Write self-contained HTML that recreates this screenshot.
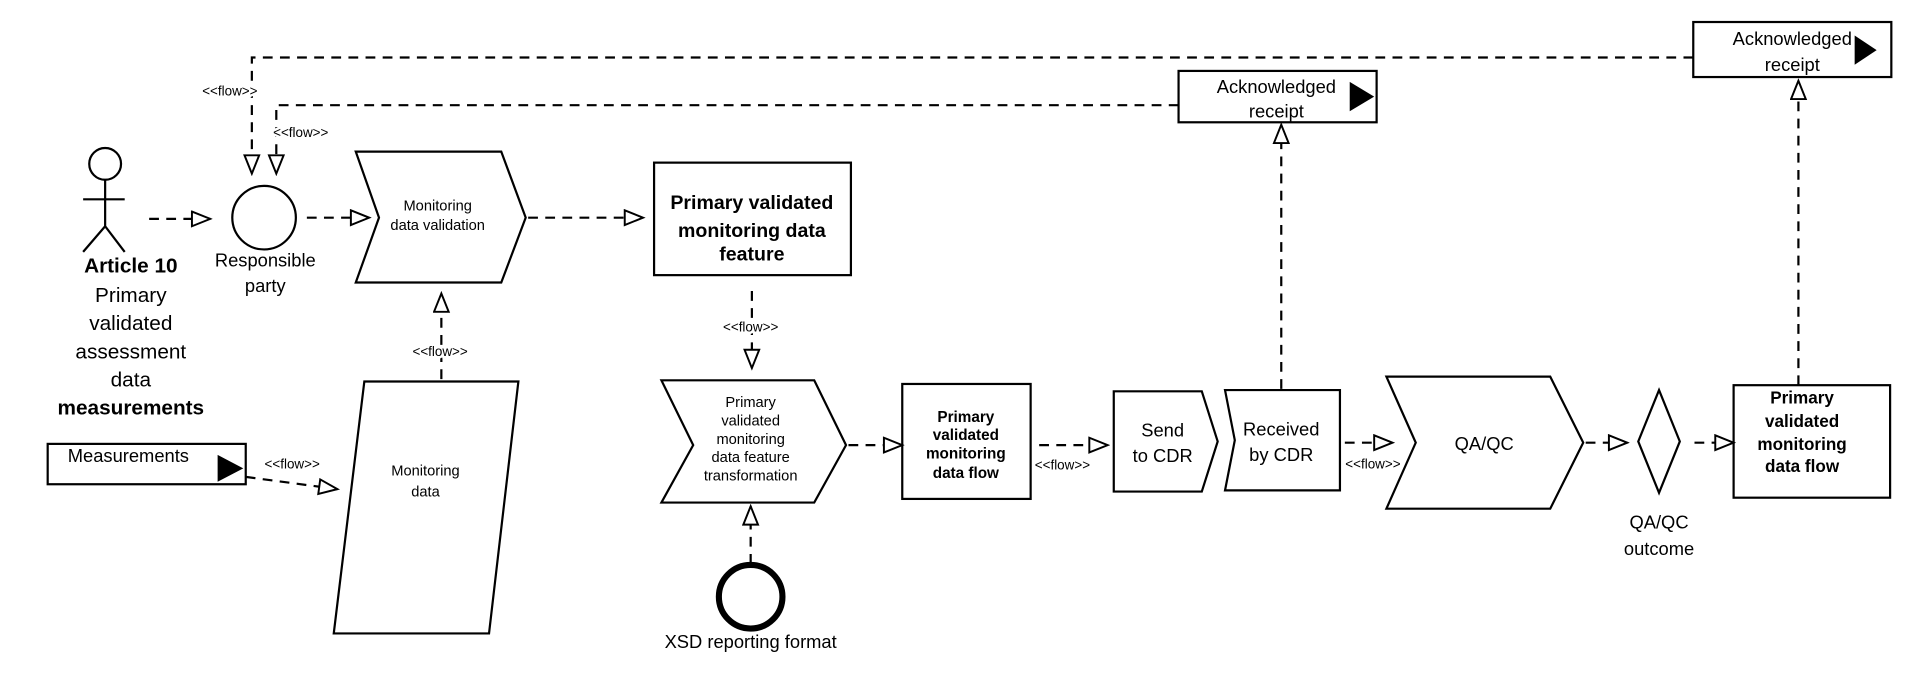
<!DOCTYPE html>
<html><head><meta charset="utf-8"><style>
html,body{margin:0;padding:0;background:#fff;}
svg{display:block;}
text{font-family:"Liberation Sans",sans-serif;fill:#000;}
.fl{paint-order:stroke;stroke:#fff;stroke-width:4px;}
</style></head><body>
<svg width="1917" height="675" viewBox="0 0 1568 552" preserveAspectRatio="none" xmlns="http://www.w3.org/2000/svg">
<defs>
<marker id="a" markerUnits="userSpaceOnUse" markerWidth="18" markerHeight="16" refX="16" refY="7" orient="auto">
<path d="M1,1 L16,7 L1,13 Z" fill="#fff" stroke="#000" stroke-width="1.6"/>
</marker>
</defs>
<g fill="none" stroke="#000" stroke-width="1.8">
<g stroke-dasharray="8,6">
<path d="M1385,47 H206 V142" marker-end="url(#a)"/>
<path d="M964,86 H226 V142" marker-end="url(#a)"/>
<path d="M122,179 H172" marker-end="url(#a)"/>
<path d="M251,178 H302" marker-end="url(#a)"/>
<path d="M432,178 H526" marker-end="url(#a)"/>
<path d="M615,238 V301" marker-end="url(#a)"/>
<path d="M361,310 V240" marker-end="url(#a)"/>
<path d="M201,390 L276,400" marker-end="url(#a)"/>
<path d="M694,364 H738" marker-end="url(#a)"/>
<path d="M614,461 V414" marker-end="url(#a)"/>
<path d="M850,364 H906" marker-end="url(#a)"/>
<path d="M1048,318 V102" marker-end="url(#a)"/>
<path d="M1100,362 H1139" marker-end="url(#a)"/>
<path d="M1297,362 H1331" marker-end="url(#a)"/>
<path d="M1386,362 H1418" marker-end="url(#a)"/>
<path d="M1471,315 V66" marker-end="url(#a)"/>
</g>
<circle cx="86" cy="134" r="13"/>
<path d="M86,147 V185 M68,163 H102 M68,206 L86,185 L102,206"/>
<circle cx="216" cy="178" r="26"/>
<polygon points="291,124 410,124 430,178 410,231 291,231 310,178"/>
<rect x="535" y="133" width="161" height="92"/>
<polygon points="298,312 424,312 400,518 273,518"/>
<rect x="39" y="363" width="162" height="33"/>
<polygon points="541,311 666,311 692,364 666,411 541,411 567,364"/>
<rect x="738" y="314" width="105" height="94"/>
<circle cx="614" cy="488" r="26" stroke-width="5"/>
<polygon points="911,320 983,320 996,361 983,402 911,402"/>
<polygon points="1002,319 1096,319 1096,401 1002,401 1010,360"/>
<polygon points="1134,308 1268,308 1295,362 1268,416 1134,416 1158,362"/>
<polygon points="1357,319 1374,361 1357,403 1340,361"/>
<rect x="1418" y="315" width="128" height="92"/>
<rect x="964" y="58" width="162" height="42"/>
<rect x="1385" y="18" width="162" height="45"/>
</g>
<g fill="#000">
<polygon points="178,372 199,383 178,394"/>
<polygon points="1104,67 1124,79 1104,91"/>
<polygon points="1517,29 1535,41 1517,53"/>
</g>
<g text-anchor="middle">
<text class="fl" x="188" y="78" font-size="11">&lt;&lt;flow&gt;&gt;</text>
<text class="fl" x="246" y="112" font-size="11">&lt;&lt;flow&gt;&gt;</text>
<text x="1044" y="76" font-size="15">Acknowledged</text>
<text x="1044" y="96" font-size="15">receipt</text>
<text x="1466" y="37" font-size="15">Acknowledged</text>
<text x="1466" y="58" font-size="15">receipt</text>
<text x="107" y="223" font-size="17" font-weight="bold">Article 10</text>
<text x="107" y="247" font-size="17">Primary</text>
<text x="107" y="270" font-size="17">validated</text>
<text x="107" y="293" font-size="17">assessment</text>
<text x="107" y="316" font-size="17">data</text>
<text x="107" y="339" font-size="17" font-weight="bold">measurements</text>
<text x="217" y="218" font-size="15">Responsible</text>
<text x="217" y="239" font-size="15">party</text>
<text x="358" y="172" font-size="12">Monitoring</text>
<text x="358" y="188" font-size="12">data validation</text>
<text x="615" y="171" font-size="16" font-weight="bold">Primary validated</text>
<text x="615" y="194" font-size="16" font-weight="bold">monitoring data</text>
<text x="615" y="213" font-size="16" font-weight="bold">feature</text>
<text class="fl" x="614" y="271" font-size="11">&lt;&lt;flow&gt;&gt;</text>
<text class="fl" x="360" y="291" font-size="11">&lt;&lt;flow&gt;&gt;</text>
<text x="105" y="378" font-size="15">Measurements</text>
<text x="239" y="383" font-size="11">&lt;&lt;flow&gt;&gt;</text>
<text x="348" y="389" font-size="12">Monitoring</text>
<text x="348" y="406" font-size="12">data</text>
<text x="614" y="333" font-size="12">Primary</text>
<text x="614" y="348" font-size="12">validated</text>
<text x="614" y="363" font-size="12">monitoring</text>
<text x="614" y="378" font-size="12">data feature</text>
<text x="614" y="393" font-size="12">transformation</text>
<text x="790" y="345" font-size="12.5" font-weight="bold">Primary</text>
<text x="790" y="360" font-size="12.5" font-weight="bold">validated</text>
<text x="790" y="375" font-size="12.5" font-weight="bold">monitoring</text>
<text x="790" y="391" font-size="12.5" font-weight="bold">data flow</text>
<text x="869" y="384" font-size="11">&lt;&lt;flow&gt;&gt;</text>
<text x="614" y="530" font-size="15">XSD reporting format</text>
<text x="951" y="357" font-size="15">Send</text>
<text x="951" y="378" font-size="15">to CDR</text>
<text x="1048" y="356" font-size="15">Received</text>
<text x="1048" y="377" font-size="15">by CDR</text>
<text x="1123" y="383" font-size="11">&lt;&lt;flow&gt;&gt;</text>
<text x="1214" y="368" font-size="15">QA/QC</text>
<text x="1357" y="432" font-size="15">QA/QC</text>
<text x="1357" y="454" font-size="15">outcome</text>
<text x="1474" y="330" font-size="14" font-weight="bold">Primary</text>
<text x="1474" y="349" font-size="14" font-weight="bold">validated</text>
<text x="1474" y="368" font-size="14" font-weight="bold">monitoring</text>
<text x="1474" y="386" font-size="14" font-weight="bold">data flow</text>
</g>
</svg>
</body></html>
